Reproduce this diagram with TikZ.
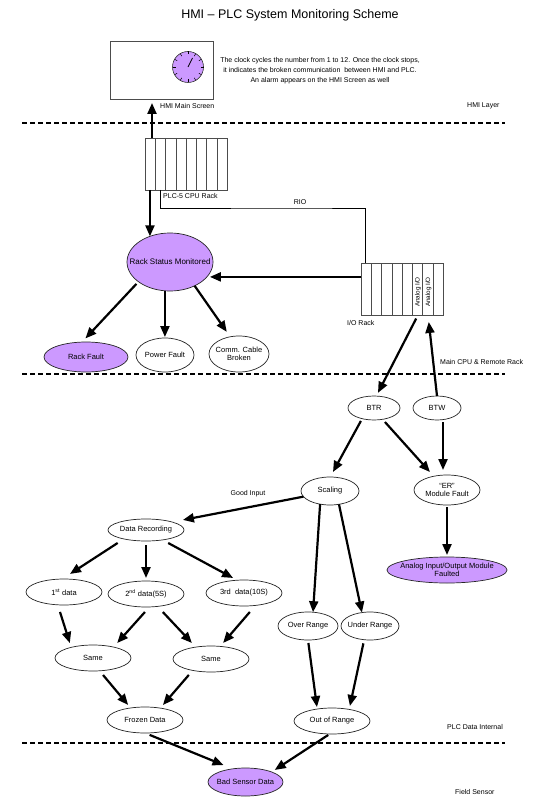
\documentclass[tikz,border=0pt]{standalone}
\usepackage{fontspec}
\setmainfont{Liberation Sans}
\usetikzlibrary{arrows.meta,shapes.geometric,calc}
\definecolor{lilac}{RGB}{204,153,255}
\newcommand\ellnode[7]{%
  \node[ell,#1,minimum width=#5pt,minimum height=#6pt] (#2) at (#3,#4) {};
  \node[etxt] (#2-t) at (#2) {#7};}
\begin{document}
\begin{tikzpicture}[x=1pt,y=-1pt,
  arr/.style={line width=2.2pt,-{Triangle[length=11pt,width=9pt]}},
  ell/.style={ellipse,draw=black!85,line width=0.7pt,inner sep=0pt,outer sep=0pt},
  etxt/.style={font=\fontsize{7.5}{8.5}\selectfont,align=center,inner sep=0pt},
  lbl/.style={font=\fontsize{7}{8}\selectfont,inner sep=0pt},
  sep/.style={line width=1.5pt,dash pattern=on 5pt off 3pt},
  rack/.style={draw=black!70,line width=0.6pt,inner sep=0pt,outer sep=0pt,minimum width=82pt,minimum height=52pt},
  slot/.style={draw=black!70,line width=0.5pt}]
\useasboundingbox[fill=white] (0,0) rectangle (535,799);

% title
\node[font=\fontsize{12.5}{14}\selectfont] (title) at (290,15) {HMI – PLC System Monitoring Scheme};

% HMI screen with clock
\node[rack,minimum width=103pt,minimum height=58pt] (hmi) at (161.5,70) {};
\node[circle,draw=black!80,fill=lilac,minimum size=31pt,inner sep=0pt,outer sep=0pt,line width=0.6pt] (clk) at (188,67) {};
\foreach \a in {0,30,...,330}
  \draw[line width=0.5pt] ($(clk.center)+(\a:15.5)$) -- ($(clk.center)+(\a:12.5)$);
\draw[line width=0.7pt] (clk.center) -- ++(4.5,-9);
\node[lbl,align=center,font=\fontsize{7}{10}\selectfont] (note) at (320,71)
  {The clock cycles the number from 1 to 12. Once the clock stops,\\
   it indicates the broken communication \ between HMI and PLC.\\
   An alarm appears on the HMI Screen as well};
\node[lbl,anchor=west] (hmiL) at (160,106) {HMI Main Screen};
\node[lbl,anchor=west] (layer1) at (467,106) {HMI Layer};

% separators
\draw[sep] (22,123) -- (505,123);
\draw[sep] (22,374) -- (505,374);
\draw[sep] (22,743) -- (505,743);

% PLC rack
\node[rack] (plc) at (186,164) {};
\foreach \i in {1,...,7}
  \draw[slot] ([xshift=\i*10.25pt]plc.north west) -- ([xshift=\i*10.25pt]plc.south west);
\node[lbl,anchor=west] (plcL) at (163,196) {PLC-5 CPU Rack};

% I/O rack
\node[rack] (io) at (402,289) {};
\foreach \i in {1,...,7}
  \draw[slot] ([xshift=\i*10.25pt]io.north west) -- ([xshift=\i*10.25pt]io.south west);
\node[lbl,rotate=90,font=\fontsize{6.3}{7}\selectfont] (an1) at (418,292) {Analog I/O};
\node[lbl,rotate=90,font=\fontsize{6.3}{7}\selectfont] (an2) at (428.5,292) {Analog I/O};
\node[lbl,anchor=west] (ioL) at (347,323) {I/O Rack};

% RIO link
\coordinate (rioc) at (300,208);
\node[lbl] (rio) at (300,202) {RIO};
\draw[line width=0.6pt] ([xshift=15pt]plc.south west) |- (rioc) -| ([xshift=4pt]io.north west);

% layer labels
\node[lbl,anchor=west] (layer2) at (440,362) {Main CPU \& Remote Rack};
\node[lbl,anchor=west] (layer3) at (447,727) {PLC Data Internal};
\node[lbl,anchor=west] (layer4) at (455,792) {Field Sensor};

% ellipses
\ellnode{fill=lilac}{rsm}{170}{262}{86}{58}{\fontsize{8}{9}\selectfont Rack Status Monitored}
\ellnode{fill=lilac}{rf}{86}{357}{84}{30}{Rack Fault}
\ellnode{}{pf}{165}{355}{58}{34}{Power Fault}
\ellnode{}{cc}{239}{354}{60}{36}{Comm. Cable\\Broken}
\ellnode{}{btr}{374}{408}{52}{24}{BTR}
\ellnode{}{btw}{437}{408}{48}{24}{BTW}
\ellnode{}{scl}{330}{491}{58}{28}{Scaling}
\ellnode{}{er}{447}{490}{66}{30}{``ER''\\Module Fault}
\ellnode{fill=lilac}{aio}{447}{570}{120}{26}{Analog Input/Output Module\\Faulted}
\ellnode{}{dr}{146}{530}{76}{22}{Data Recording}
\ellnode{}{d1}{64}{592}{76}{26}{1\textsuperscript{st} data}
\ellnode{}{d2}{146}{594}{76}{26}{2\textsuperscript{nd} data(5S)}
\ellnode{}{d3}{244}{593}{76}{26}{3rd \ data(10S)}
\ellnode{}{s1}{93}{658}{76}{26}{Same}
\ellnode{}{s2}{211}{659}{76}{26}{Same}
\ellnode{}{fz}{145}{720}{76}{26}{Frozen Data}
\ellnode{}{ovr}{308}{626}{60}{28}{Over Range}
\ellnode{}{udr}{370}{626}{58}{28}{Under Range}
\ellnode{}{oor}{332}{721}{76}{26}{Out of Range}
\ellnode{fill=lilac}{bsd}{245.5}{782}{75}{28}{Bad Sensor Data}

\node[lbl] (good) at (248,494) {Good Input};

% connectors
\draw[arr,shorten >=4pt] ([xshift=-34pt]plc.north) -- ([xshift=-34pt]plc.north |- hmi.south);
\draw[arr] (rsm.128 |- plc.south) -- (rsm.128);
\draw[arr,shorten >=3pt] (io.west |- rsm.338) -- (rsm.338);
\draw[arr,shorten <=3pt,shorten >=5pt] (rsm.212) -- (rf.105);
\draw[arr,shorten >=1pt] (rsm.260) -- (rsm.260 |- pf.north);
\draw[arr,shorten >=6pt] (rsm.316) -- (cc.117);
\draw[arr,shorten <=4pt,shorten >=3.6pt] ([xshift=16pt]io.south) -- (btr.79);
\draw[arr,shorten >=7pt] (btw.north) -- ([xshift=26pt]io.south);
\draw[arr,shorten <=2.6pt,shorten >=5.7pt] (btr.222) -- (scl.89);
\draw[arr,shorten <=3.6pt,shorten >=5.7pt] (btr.307) -- (er.134);
\draw[arr,shorten <=2pt,shorten >=5pt] ([xshift=6pt]btw.south) -- ([xshift=6pt]btw.south |- er.north);
\draw[arr,shorten <=2pt,shorten >=2pt] (er.south) -- (aio.north);
\draw[arr,shorten >=11pt] (scl.192) -- (dr.17);
\draw[arr,shorten <=7.4pt,shorten >=9.3pt] (dr.202) -- (d1.98);
\draw[arr,shorten <=4pt,shorten >=3pt] (dr.south) -- (d2.north);
\draw[arr,shorten <=6.5pt,shorten >=4.7pt] (dr.329) -- (d3.118);
\draw[arr,shorten <=7.5pt,shorten >=4.5pt] (d1.244) -- (s1.154);
\draw[arr,shorten <=6.8pt,shorten >=5.4pt] (d2.285) -- (s1.28);
\draw[arr,shorten <=7.7pt,shorten >=5.6pt] (d2.313) -- (s2.142);
\draw[arr,shorten <=8.7pt,shorten >=4.5pt] (d3.313) -- (s2.54);
\draw[arr,shorten <=5.5pt,shorten >=3.9pt] (s1.297) -- (fz.140);
\draw[arr,shorten <=6pt,shorten >=4.1pt] (s2.212) -- (fz.38);
\draw[arr] (scl.233) -- (ovr.70);
\draw[arr] (scl.304) -- (udr.121);
\draw[arr,shorten <=3pt,shorten >=2pt] (ovr.south) -- (oor.141);
\draw[arr,shorten <=3.7pt,shorten >=3.5pt] (udr.247) -- (oor.34);
\draw[arr,shorten <=5pt,shorten >=10pt] (fz.south) -- (bsd.134);
\draw[arr,shorten <=1.8pt,shorten >=3.7pt] (oor.260) -- (bsd.21);
\end{tikzpicture}
\end{document}
